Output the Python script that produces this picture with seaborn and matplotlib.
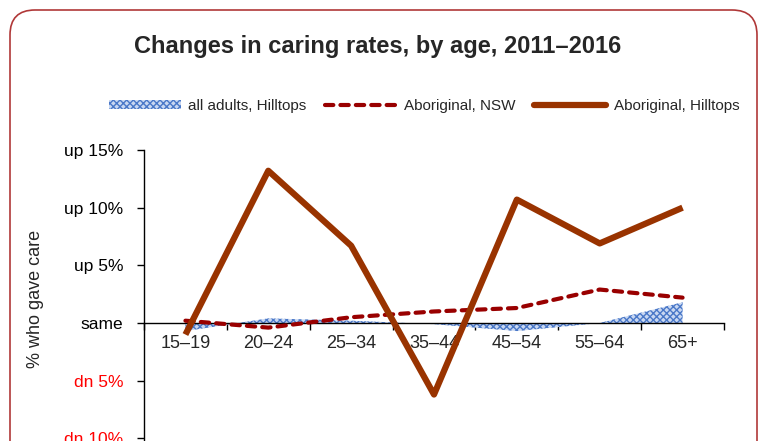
import numpy as np
import pandas as pd
import matplotlib
matplotlib.use("Agg")
import matplotlib.pyplot as plt
import seaborn as sns
from matplotlib.patches import FancyBboxPatch, Patch
from matplotlib.lines import Line2D

# Change in caring rate (percentage points), 2011 -> 2016
ages = ["15–19", "20–24", "25–34", "35–44", "45–54", "55–64", "65+"]
all_adults_hilltops = [-0.7, 0.4, 0.2, -0.1, -0.7, 0.0, 1.8]
aboriginal_nsw = [0.2, -0.4, 0.5, 1.0, 1.3, 2.9, 2.2]
aboriginal_hilltops = [-1.0, 13.2, 6.7, -6.2, 10.7, 6.9, 10.0]

y_ticks = [-15, -10, -5, 0, 5, 10, 15]
y_tick_labels = ["dn 15%", "dn 10%", "dn 5%", "same", "up 5%", "up 10%", "up 15%"]

sns.set_style("white")
plt.rcParams["font.family"] = ["Liberation Sans", "DejaVu Sans"]

df = pd.DataFrame({
    "pos": np.arange(len(ages)),
    "age": ages,
    "all": all_adults_hilltops,
    "nsw": aboriginal_nsw,
    "hilltops": aboriginal_hilltops,
})

W, H = 763, 441
fig = plt.figure(figsize=(W / 100, H / 100), dpi=100)
# axes: x 144..724 px, y 15% at 150 px, -15% below the figure edge
ax = fig.add_axes([144 / W, (H - 496) / H, 580 / W, 346 / H])

# all adults area (patterned fill)
ax.fill_between(df["pos"], 0, df["all"], facecolor="#c9d8f2", edgecolor="#4a78c8",
                hatch="xxxxx", linewidth=0, zorder=1)
sns.lineplot(data=df, x="pos", y="nsw", ax=ax, color="#990000", linewidth=3,
             dashes=False, zorder=3)
ax.lines[-1].set_dashes([2.0, 1.7])
ax.lines[-1].set_dash_capstyle("round")
sns.lineplot(data=df, x="pos", y="hilltops", ax=ax, color="#993300", linewidth=4.5,
             zorder=4)
ax.lines[-1].set_solid_joinstyle("round")
ax.lines[-1].set_solid_capstyle("butt")

ax.set_xlim(-0.5, len(ages) - 0.5)
ax.set_ylim(-15, 15)
ax.set_xlabel("")
ax.set_ylabel("")

ax.spines["top"].set_visible(False)
ax.spines["right"].set_visible(False)
ax.spines["bottom"].set_position(("data", 0))
for s in ["left", "bottom"]:
    ax.spines[s].set_color("black")
    ax.spines[s].set_linewidth(1)

ax.set_xticks(df["pos"])
ax.set_xticklabels(ages, fontsize=13)
ax.set_xticks(np.arange(len(ages) + 1) - 0.5, minor=True)
ax.tick_params(axis="x", which="major", length=0, pad=9)
ax.tick_params(axis="x", which="minor", length=5, width=1, color="black",
               direction="out", bottom=True)

ax.set_yticks(y_ticks)
ax.set_yticklabels(y_tick_labels, fontsize=12.5)
ax.tick_params(axis="y", length=5, width=1, color="black", direction="out",
               left=True, pad=10)
for t, v in zip(ax.get_yticklabels(), y_ticks):
    t.set_color("#ff0000" if v < 0 else "black")

fig.text(378 / W, 1 - 47 / H, "Changes in caring rates, by age, 2011–2016",
         ha="center", va="center", fontsize=17, fontweight="bold")
fig.text(36 / W, 1 - 299 / H, "% who gave care", rotation=90,
         ha="center", va="center", fontsize=13)

handles = [
    Patch(facecolor="#c9d8f2", edgecolor="#4a78c8", hatch="xxxxx", linewidth=0,
          label="all adults, Hilltops"),
    Line2D([], [], color="#990000", linewidth=3, dashes=[2.0, 1.7],
           dash_capstyle="round", label="Aboriginal, NSW"),
    Line2D([], [], color="#993300", linewidth=4.5, solid_capstyle="round",
           label="Aboriginal, Hilltops"),
]
fig.legend(handles=handles, loc="center", bbox_to_anchor=(424 / W, 1 - 106 / H),
           ncol=3, frameon=False, fontsize=11, handlelength=4.7, handleheight=0.6,
           handletextpad=0.5, columnspacing=1.2)

# rounded chart border
border = FancyBboxPatch((10, -40), 747, H - 10 + 40,
                        boxstyle="round,pad=0,rounding_size=25",
                        facecolor="none", edgecolor="#b03838", linewidth=1.2,
                        transform=None)
fig.add_artist(border)

fig.savefig("out.png", dpi=100)
plt.close(fig)
